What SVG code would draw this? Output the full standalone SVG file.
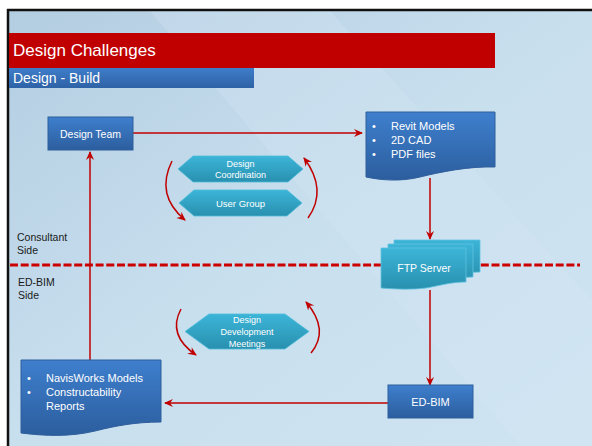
<svg xmlns="http://www.w3.org/2000/svg" width="592" height="446" viewBox="0 0 592 446">
<defs>
<linearGradient id="bg" x1="0" y1="0" x2="1" y2="1">
<stop offset="0" stop-color="#b3cde1"/>
<stop offset="0.5" stop-color="#c8dfee"/>
<stop offset="1" stop-color="#cfe4f2"/>
</linearGradient>
<linearGradient id="blue" x1="0" y1="0" x2="0" y2="1">
<stop offset="0" stop-color="#3e7fcd"/>
<stop offset="1" stop-color="#2c5e9e"/>
</linearGradient>
<linearGradient id="bar" x1="0" y1="0" x2="0" y2="1">
<stop offset="0" stop-color="#3f7dc9"/>
<stop offset="1" stop-color="#2e62a6"/>
</linearGradient>
<linearGradient id="teal" x1="0" y1="0" x2="0" y2="1">
<stop offset="0" stop-color="#3cb5d8"/>
<stop offset="1" stop-color="#2990af"/>
</linearGradient>
<marker id="ah" markerWidth="10" markerHeight="10" refX="8" refY="5" orient="auto" markerUnits="userSpaceOnUse">
<path d="M0,1 L9,5 L0,9 L3,5 Z" fill="#c00000"/>
</marker>
<style>
.t{font-family:"Liberation Sans",Arial,sans-serif;fill:#ffffff}
.lbl{font-family:"Liberation Sans",Arial,sans-serif;fill:#1a1a1a;font-size:10.5px}
.ln{stroke:#c00000;stroke-width:1.5;fill:none}
.box{fill:url(#blue);stroke:#2f5f9c;stroke-width:1}
.hex{fill:url(#teal);stroke:#4fbcd9;stroke-width:0.8}
</style>
</defs>
<rect x="0" y="0" width="592" height="446" fill="#ffffff"/>
<rect x="9" y="11" width="583" height="435" fill="url(#bg)"/>
<polygon points="150,11 330,11 592,300 592,446 520,446" fill="#d3e6f3" opacity="0.35"/>
<line x1="7" y1="10" x2="592" y2="10" stroke="#111" stroke-width="2.5"/>
<line x1="8" y1="9" x2="8" y2="446" stroke="#111" stroke-width="2.5"/>

<g id="title">
<rect x="9" y="33" width="486" height="35" fill="#c00000"/>
<text class="t" x="13" y="56" font-size="17">Design Challenges</text>
</g>
<g id="subtitle">
<rect x="9" y="68" width="245" height="20" fill="url(#bar)"/>
<text class="t" x="13" y="83" font-size="14">Design - Build</text>
</g>

<g id="side-labels">
<text class="lbl" x="17" y="241">Consultant</text>
<text class="lbl" x="17" y="254">Side</text>
<text class="lbl" x="18" y="286">ED-BIM</text>
<text class="lbl" x="18" y="299">Side</text>
</g>

<g id="connectors">
<line x1="10" y1="265" x2="580" y2="265" stroke="#cc0000" stroke-width="3" stroke-dasharray="8,2.7"/>
<line class="ln" x1="133" y1="133" x2="362" y2="133" marker-end="url(#ah)"/>
<line class="ln" x1="430" y1="178" x2="430" y2="239" marker-end="url(#ah)"/>
<line class="ln" x1="430" y1="290" x2="430" y2="385" marker-end="url(#ah)"/>
<line class="ln" x1="388" y1="403" x2="165" y2="403" marker-end="url(#ah)"/>
<line class="ln" x1="90" y1="360" x2="90" y2="152" marker-end="url(#ah)"/>
<path class="ln" d="M172,161 Q155,195 185,220" marker-end="url(#ah)"/>
<path class="ln" d="M308,218 Q328,190 304,158" marker-end="url(#ah)"/>
<path class="ln" d="M181,309 Q167,335 196,355" marker-end="url(#ah)"/>
<path class="ln" d="M311,353 Q330,330 306,302" marker-end="url(#ah)"/>
</g>

<g id="design-team">
<rect class="box" x="48" y="117" width="85" height="33"/>
<text class="t" x="90.5" y="137.5" font-size="10.5" text-anchor="middle">Design Team</text>
</g>

<g id="revit">
<path class="box" d="M366,112 H495 V167 C470,166 440,172 420,177 C400,182 380,180 366,177 Z"/>
<text class="t" font-size="11">
<tspan x="372" y="130">•</tspan><tspan x="391" y="130">Revit Models</tspan>
<tspan x="372" y="144">•</tspan><tspan x="391" y="144">2D CAD</tspan>
<tspan x="372" y="158">•</tspan><tspan x="391" y="158">PDF files</tspan>
</text>
</g>

<g id="design-coordination">
<polygon class="hex" points="178,169 193,156 288,156 303,169 288,182 193,182"/>
<text class="t" font-size="9" text-anchor="middle"><tspan x="240.5" y="167">Design</tspan><tspan x="240.5" y="178">Coordination</tspan></text>
</g>

<g id="user-group">
<polygon class="hex" points="179,203 194,190 287,190 302,203 287,216 194,216"/>
<text class="t" font-size="9.5" x="240.5" y="206.5" text-anchor="middle">User Group</text>
</g>

<g id="ftp-server">
<path fill="url(#teal)" stroke="#5fc3df" stroke-width="0.8" d="M394,240 H480 V272 C465,272 452,275 440,277 C425,279 405,278 394,276 Z"/>
<path fill="url(#teal)" stroke="#5fc3df" stroke-width="0.8" d="M388,244 H473 V277 C458,277 445,280 433,282 C418,284 398,283 388,281 Z"/>
<path fill="url(#teal)" stroke="#5fc3df" stroke-width="0.8" d="M381,248 H466 V282 C451,282 438,286 426,288 C411,290 392,289 381,288 Z"/>
<text class="t" font-size="10.5" x="424" y="272" text-anchor="middle">FTP Server</text>
</g>

<g id="design-development">
<polygon class="hex" points="185,331.5 209,314 285,314 309,331.5 285,349 209,349"/>
<text class="t" font-size="9" text-anchor="middle"><tspan x="247" y="323">Design</tspan><tspan x="247" y="335">Development</tspan><tspan x="247" y="347">Meetings</tspan></text>
</g>

<g id="navisworks">
<path class="box" d="M21,360 H161 V422 C135,422 115,426 95,431 C70,437 45,436 21,433 Z"/>
<text class="t" font-size="11">
<tspan x="27" y="382">•</tspan><tspan x="46" y="382">NavisWorks Models</tspan>
<tspan x="27" y="396">•</tspan><tspan x="46" y="396">Constructability</tspan>
<tspan x="46" y="410">Reports</tspan>
</text>
</g>

<g id="ed-bim">
<rect class="box" x="388" y="385" width="85" height="33"/>
<text class="t" x="430.5" y="406" font-size="11" text-anchor="middle">ED-BIM</text>
</g>
</svg>
